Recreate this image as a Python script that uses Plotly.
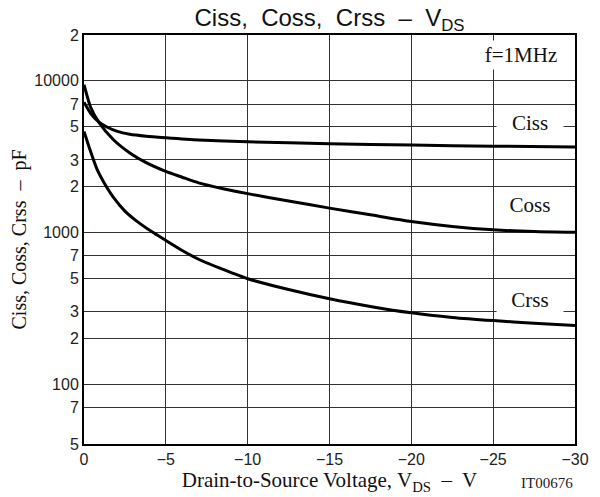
import math
import plotly.graph_objects as go

# ---- data ----
ciss_v = [0, -0.4, -0.9, -1.4, -2, -2.8, -3.8, -5, -7, -10, -15, -20, -25, -30]
ciss_pf = [7200, 6100, 5350, 4950, 4650, 4430, 4300, 4200, 4060, 3950, 3840, 3760, 3700, 3650]

coss_v = [0, -0.4, -0.9, -1.8, -2.8, -3.8, -5, -6, -7, -8.5, -10, -12.5, -15, -17.5, -20, -22.5, -25, -27.5, -30]
coss_pf = [9400, 6700, 5330, 4080, 3340, 2880, 2520, 2310, 2120, 1940, 1800, 1610, 1445, 1305, 1180, 1095, 1040, 1012, 1000]

crss_v = [0, -0.4, -0.8, -1.2, -1.8, -2.5, -3.2, -4.2, -5, -6, -7, -8.5, -10, -12.5, -15, -17.5, -20, -22.5, -25, -27.5, -30]
crss_pf = [4630, 3420, 2600, 2150, 1700, 1380, 1190, 1000, 885, 760, 665, 570, 495, 420, 365, 325, 295, 275, 262, 252, 243]

x_ticks = [0, -5, -10, -15, -20, -25, -30]
x_ticktext = ["0", "\u22125", "\u221210", "\u221215", "\u221220", "\u221225", "\u221230"]

y_bottom = 10 ** 1.605   # bottom edge of the chart frame (labelled "5" in the original)
y_top = 20000
y_ticks = [y_bottom, 70, 100, 200, 300, 500, 700, 1000, 2000, 3000, 5000, 7000, 10000, 20000]
y_ticktext = ["5", "7", "100", "2", "3", "5", "7", "1000", "2", "3", "5", "7", "10000", "2"]

series = [("Ciss", ciss_v, ciss_pf), ("Coss", coss_v, coss_pf), ("Crss", crss_v, crss_pf)]

SERIF = "Liberation Serif, Times New Roman, serif"
SANS = "Liberation Sans, Arial, sans-serif"

fig = go.Figure()
for name, xv, yv in series:
    fig.add_trace(go.Scatter(
        x=xv, y=yv, mode="lines", name=name,
        line=dict(color="black", width=3, shape="spline", smoothing=0.6),
        showlegend=False, hoverinfo="x+y+name",
    ))

grid_col = "#333333"
fig.update_layout(
    width=600, height=497,
    margin=dict(l=84, r=25, t=35, b=53),
    paper_bgcolor="white", plot_bgcolor="white",
    title=dict(
        text="Ciss,  Coss,  Crss  \u2013  V<sub>DS</sub>",
        font=dict(family=SANS, size=24, color="#111"),
        x=0.5, xref="paper", xanchor="center",
        y=1 - 18 / 497, yref="container", yanchor="middle",
    ),
    xaxis=dict(
        range=[0, -30], tickmode="array", tickvals=x_ticks, ticktext=x_ticktext,
        showgrid=True, gridcolor=grid_col, gridwidth=1.3,
        showline=True, linecolor="black", linewidth=2, mirror=True,
        ticks="", tickfont=dict(family=SANS, size=16, color="#222"),
        zeroline=False,
        title=dict(text="Drain-to-Source Voltage, V<sub>DS</sub>  \u2013  V",
                   font=dict(family=SERIF, size=21, color="#111"), standoff=1),
    ),
    yaxis=dict(
        type="log", range=[math.log10(y_bottom), math.log10(y_top)],
        tickmode="array", tickvals=y_ticks, ticktext=y_ticktext,
        showgrid=True, gridcolor=grid_col, gridwidth=1.3,
        showline=True, linecolor="black", linewidth=2, mirror=True,
        ticks="", tickfont=dict(family=SANS, size=16, color="#222"),
        zeroline=False,
        title=dict(text="Ciss, Coss, Crss  \u2013  pF",
                   font=dict(family=SERIF, size=20, color="#111"), standoff=2),
    ),
)

label_font = dict(family=SERIF, size=21, color="#111")
for text, xp, yp in [("Ciss", 0.908, 0.785), ("Coss", 0.908, 0.584), ("Crss", 0.908, 0.352)]:
    fig.add_annotation(text=text, x=xp, y=yp, xref="paper", yref="paper",
                       xanchor="center", yanchor="middle",
                       showarrow=False, font=label_font, bgcolor="white",
                       borderpad=0, width=66, height=30)

fig.add_annotation(text="f=1MHz", x=0.890, y=0.951, xref="paper", yref="paper",
                   xanchor="center", yanchor="middle",
                   showarrow=False, font=label_font, bgcolor="white",
                   borderpad=0, width=88, height=28)
fig.add_annotation(text="IT00676", x=1.0, y=-0.095, xref="paper", yref="paper",
                   xanchor="right", yanchor="middle", showarrow=False,
                   font=dict(family=SERIF, size=15, color="#222"))

# remove the browser's default 8px body margin so the figure sits at the page origin
fig.write_html("out.html", config={"displayModeBar": False},
               post_script="document.body.style.margin='0';")
